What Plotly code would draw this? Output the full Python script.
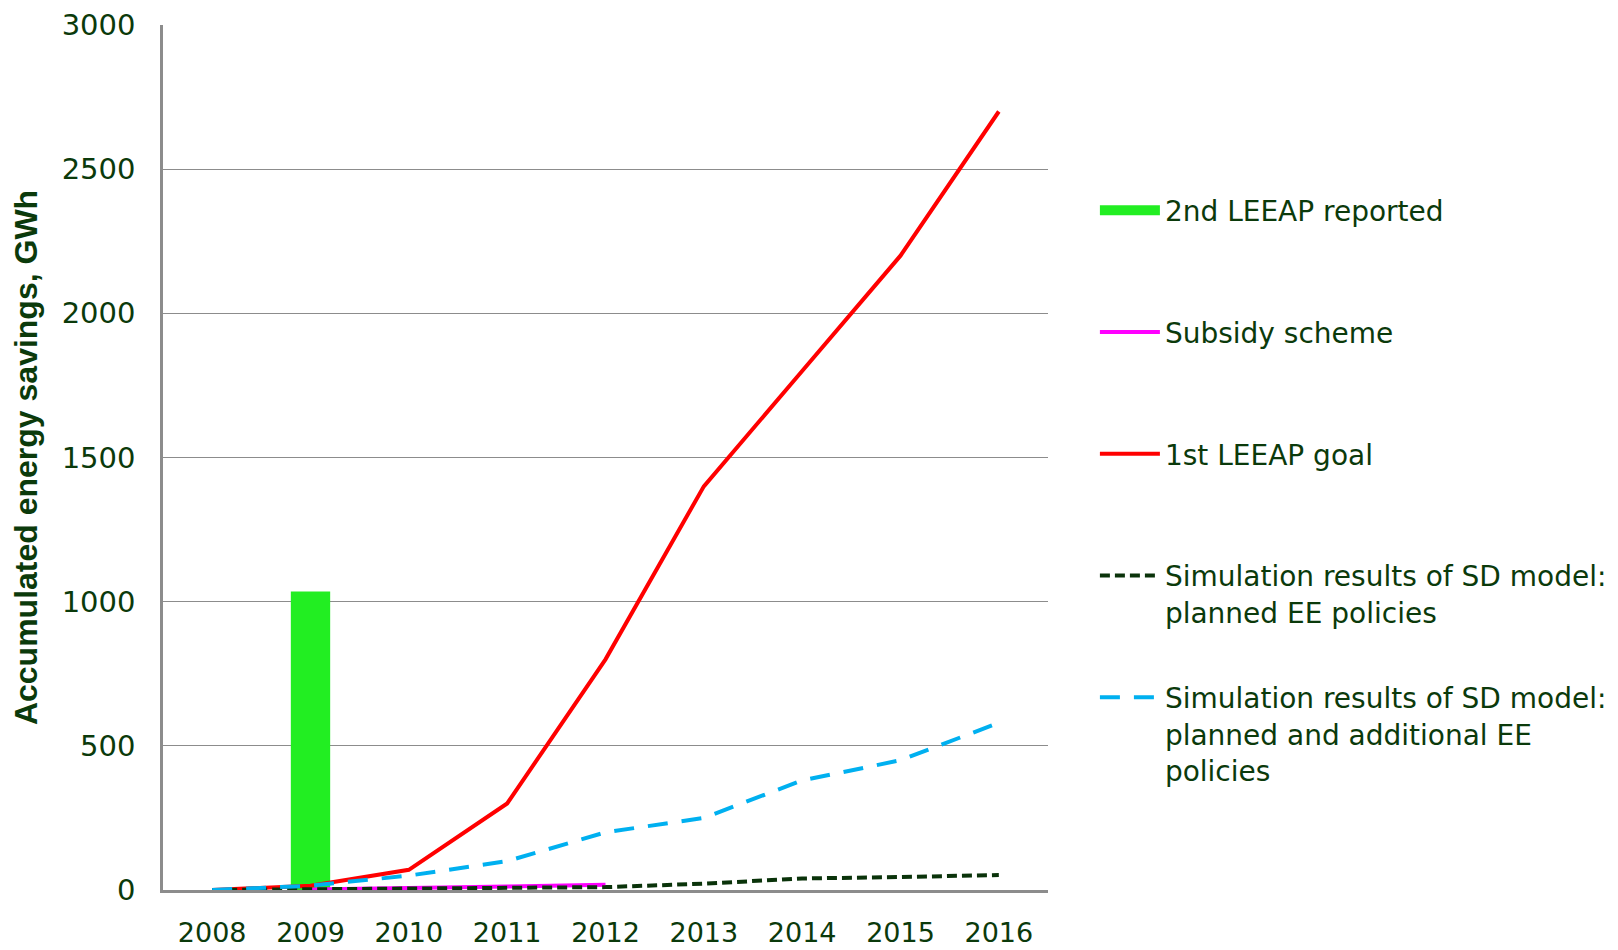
import plotly.graph_objects as go

years = ["2008", "2009", "2010", "2011", "2012", "2013", "2014", "2015", "2016"]

# 2nd LEEAP reported (single bar in 2009)
reported_years = ["2009"]
reported_vals = [1035]

subsidy_years = ["2009", "2010", "2011", "2012"]
subsidy_vals = [2, 6, 12, 18]

goal_vals = [0, 15, 70, 300, 800, 1400, 1800, 2200, 2700]
sim_planned = [0, 2, 3, 5, 10, 22, 40, 45, 52]
sim_additional = [0, 15, 50, 100, 200, 250, 380, 450, 580]

TXT = "#0b3a0b"
FONT = "DejaVu Sans"

fig = go.Figure()

fig.add_trace(go.Bar(
    x=reported_years, y=reported_vals, width=0.4,
    marker=dict(color="#22ee22", line=dict(width=0)),
    showlegend=False,
))
# legend sample for the bar (wide green block)
fig.add_trace(go.Scatter(
    x=[None], y=[None], mode="lines",
    line=dict(color="#22ee22", width=14),
    name="2nd LEEAP reported<br> ", legendgroup="a",
))
fig.add_trace(go.Scatter(
    x=subsidy_years, y=subsidy_vals, mode="lines",
    line=dict(color="#ff00ff", width=4),
    name="Subsidy scheme<br> ", legendgroup="b",
))
fig.add_trace(go.Scatter(
    x=years, y=goal_vals, mode="lines",
    line=dict(color="#ff0000", width=4),
    name="1st LEEAP goal<br> ", legendgroup="c",
))
fig.add_trace(go.Scatter(
    x=years, y=sim_planned, mode="lines",
    line=dict(color="#0a330a", width=4, dash="10px,5px"),
    name="Simulation results of SD model:<br>planned EE policies", legendgroup="d",
))
fig.add_trace(go.Scatter(
    x=years, y=sim_additional, mode="lines",
    line=dict(color="#00b0f0", width=4, dash="20px,14px"),
    name="Simulation results of SD model:<br>planned and additional EE<br>policies",
    legendgroup="e",
))

# page body adds an 8px offset, so the figure is a bit smaller than the window
fig.update_layout(
    width=1602, height=942,
    margin=dict(l=155, r=562, t=17, b=60, autoexpand=False),
    plot_bgcolor="white", paper_bgcolor="white",
    font=dict(family=FONT, color=TXT, size=28),
    legend=dict(
        x=1.053, y=0.8145, xanchor="left", yanchor="top",
        traceorder="grouped", tracegroupgap=46, valign="top",
        itemwidth=60, font=dict(size=28, color=TXT),
        bgcolor="rgba(0,0,0,0)",
    ),
    xaxis=dict(
        type="category", categoryorder="array", categoryarray=years,
        range=[-0.5, 8.5], automargin=False,
        showgrid=False, zeroline=False,
        showline=True, linecolor="#8c8c8c", linewidth=2.5,
        ticks="", ticklabelstandoff=17,
        tickfont=dict(size=27, color=TXT),
    ),
    yaxis=dict(
        range=[0, 3000], tickvals=[0, 500, 1000, 1500, 2000, 2500, 3000],
        automargin=False,
        showgrid=True, gridcolor="#8c8c8c", gridwidth=1.2, zeroline=False,
        showline=True, linecolor="#8c8c8c", linewidth=2.5,
        ticks="", ticklabelstandoff=19,
        tickfont=dict(size=29, color=TXT),
        title=dict(text="<b>Accumulated energy savings, GWh</b>",
                   font=dict(family="Liberation Sans", size=32, color=TXT),
                   standoff=32),
    ),
)

fig.write_html("out.html")
